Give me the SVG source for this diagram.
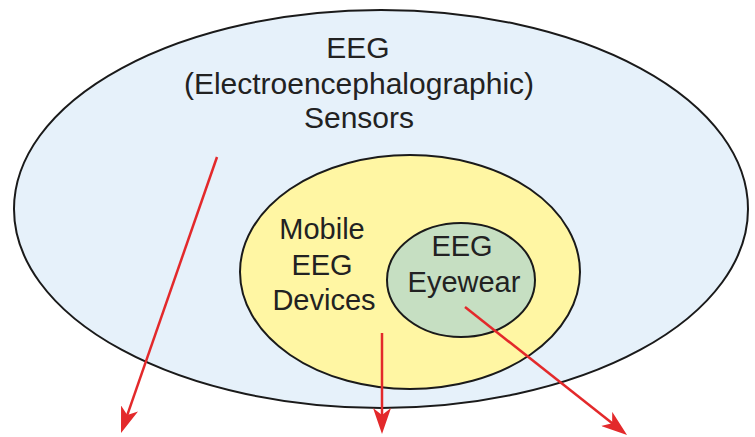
<svg xmlns="http://www.w3.org/2000/svg" width="755" height="437" viewBox="0 0 755 437">
  <style>
    .set { stroke: #1a1a1a; stroke-width: 2; }
    .lbl { font-family: "Liberation Sans", Arial, sans-serif; fill: #222; text-anchor: middle; }
    .arrow { stroke: #e3292b; stroke-width: 2.5; fill: none; marker-end: url(#head); }
  </style>
  <defs>
    <marker id="head" markerUnits="userSpaceOnUse" viewBox="0 0 26 18" markerWidth="26" markerHeight="18" refX="16" refY="9" orient="auto">
      <path d="M0,0 L26,9 L0,18 L7,9 Z" fill="#e3292b"/>
    </marker>
  </defs>
  <rect width="755" height="437" fill="#ffffff"/>
  <g id="node-eeg-sensors">
    <ellipse class="set" cx="381" cy="209" rx="367" ry="199" fill="#e6f1fa"/>
    <text class="lbl" x="358" y="58" font-size="30">EEG</text>
    <text class="lbl" x="359" y="94" font-size="30">(Electroencephalographic)</text>
    <text class="lbl" x="359" y="128" font-size="30">Sensors</text>
  </g>
  <g id="node-mobile-eeg">
    <ellipse class="set" cx="410" cy="272" rx="170" ry="117" fill="#fff6a3"/>
    <text class="lbl" x="322" y="239" font-size="29">Mobile</text>
    <text class="lbl" x="322" y="275" font-size="29">EEG</text>
    <text class="lbl" x="324" y="310" font-size="29">Devices</text>
  </g>
  <g id="node-eeg-eyewear">
    <ellipse class="set" cx="461" cy="280" rx="74" ry="57" fill="#c6dfc2"/>
    <text class="lbl" x="462" y="256" font-size="29">EEG</text>
    <text class="lbl" x="464" y="292" font-size="29">Eyewear</text>
  </g>
  <g id="connectors">
    <line class="arrow" x1="217" y1="157" x2="124.3" y2="423.6"/>
    <line class="arrow" x1="382" y1="333" x2="382" y2="424"/>
    <line class="arrow" x1="465" y1="307" x2="619.2" y2="428.8"/>
  </g>
</svg>
